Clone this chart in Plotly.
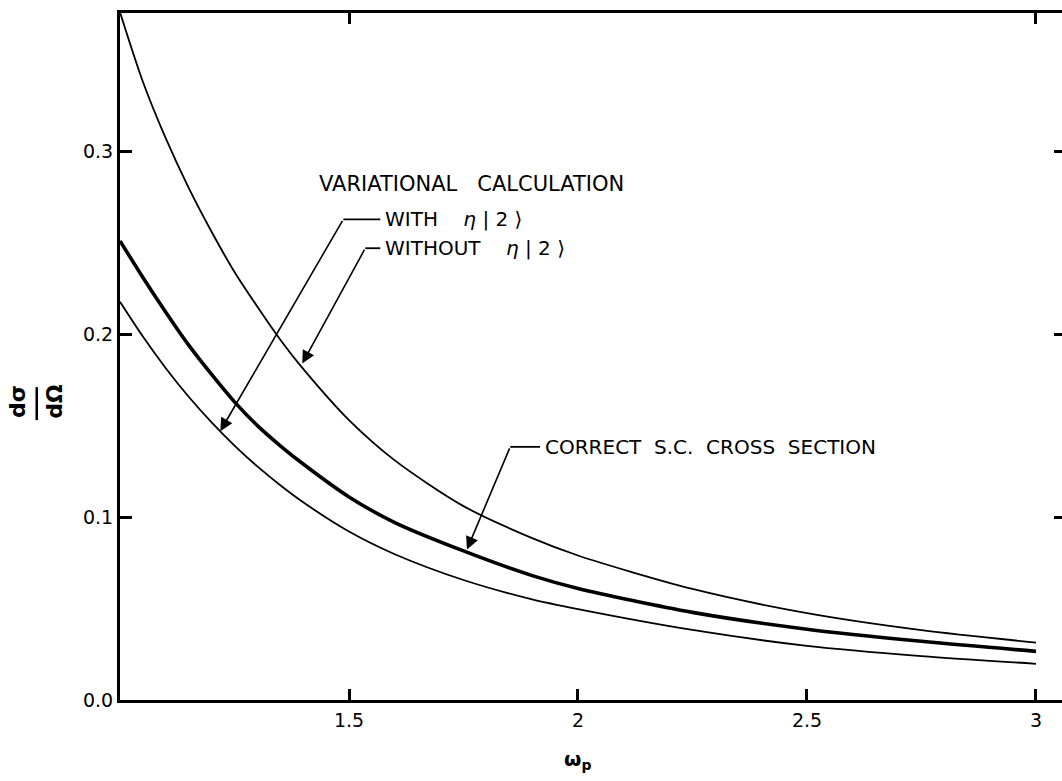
import plotly.graph_objects as go

# omega_p values
omega = [1.0, 1.05, 1.1, 1.15, 1.2, 1.25, 1.3, 1.35, 1.4, 1.5, 1.6, 1.75, 1.9, 2.0, 2.25, 2.5, 2.75, 3.0]
# variational calculation without eta|2>
without_eta = [0.376, 0.338, 0.307, 0.280, 0.256, 0.234, 0.215, 0.197, 0.181, 0.153, 0.131, 0.106, 0.0885, 0.079, 0.0607, 0.0475, 0.0382, 0.0314]
# correct S.C. cross section (thick)
correct_sc = [0.251, 0.231, 0.212, 0.194, 0.178, 0.163, 0.150, 0.139, 0.129, 0.111, 0.097, 0.0815, 0.068, 0.061, 0.0479, 0.0387, 0.0321, 0.0266]
# variational calculation with eta|2>
with_eta = [0.2177, 0.1987, 0.1814, 0.1658, 0.1518, 0.1391, 0.1277, 0.1174, 0.1081, 0.0921, 0.0797, 0.0656, 0.0550, 0.0497, 0.0383, 0.0296, 0.0240, 0.0198]

x_ticks = [1.5, 2, 2.5, 3]
x_tick_text = ["1.5", "2", "2.5", "3"]
top_ticks = [1.5, 3]
y_ticks = [0.0, 0.1, 0.2, 0.3]
y_tick_text = ["0.0", "0.1", "0.2", "0.3"]
right_ticks = [0.1, 0.2, 0.3]

FONT = "DejaVu Sans"
NB = "\u00a0"

fig = go.Figure()
for ys, w in [(without_eta, 1.8), (correct_sc, 3.6), (with_eta, 1.8)]:
    fig.add_trace(go.Scatter(x=omega, y=ys, mode="lines",
                             line=dict(color="black", width=w, shape="spline", smoothing=0.8),
                             showlegend=False, hoverinfo="skip"))
# invisible trace carrying the top / right tick axes
fig.add_trace(go.Scatter(x=[1], y=[0], xaxis="x2", yaxis="y2", mode="markers",
                         marker=dict(opacity=0), showlegend=False, hoverinfo="skip"))

XR = [1.0, 3.0568]
YR = [0.0, 0.3756]

fig.update_layout(
    width=1062, height=781,
    margin=dict(l=120, r=0, t=13, b=81),
    paper_bgcolor="white", plot_bgcolor="white",
    font=dict(family=FONT, color="black"),
    xaxis=dict(range=XR, tickvals=x_ticks, ticktext=x_tick_text, ticks="inside",
               ticklen=11, tickwidth=2.5, tickcolor="black", showline=True, linewidth=3,
               linecolor="black", mirror=True, showgrid=False, zeroline=False,
               tickfont=dict(size=19, family=FONT), ticklabelstandoff=1),
    xaxis2=dict(range=XR, overlaying="x", side="top", tickvals=top_ticks,
                ticks="inside", ticklen=11, tickwidth=2.5, tickcolor="black",
                showticklabels=False, showline=False, showgrid=False, zeroline=False),
    yaxis=dict(range=YR, tickvals=y_ticks, ticktext=y_tick_text, ticks="inside",
               ticklen=12, tickwidth=2.5, tickcolor="black", showline=True, linewidth=3,
               linecolor="black", showgrid=False, zeroline=False,
               tickfont=dict(size=19, family=FONT)),
    yaxis2=dict(range=YR, overlaying="y", side="right", tickvals=right_ticks,
                ticks="inside", ticklen=8, tickwidth=2.5, tickcolor="black",
                showticklabels=False, showline=False, showgrid=False, zeroline=False),
)

ann_font = dict(family=FONT, size=20, color="black")

# VARIATIONAL CALCULATION heading
fig.add_annotation(x=1.431, y=0.282, text="VARIATIONAL" + NB * 3 + "CALCULATION",
                   showarrow=False, xanchor="left", yanchor="middle",
                   font=dict(family=FONT, size=21, color="black"))

eta = "<i>η</i>" + NB + "|" + NB + "2" + NB + "⟩"
labels = [
    # text, leader start (ω, y), leader end ω, arrow tip (ω, y)
    ("WITH" + NB * 4 + eta, (1.4876, 0.2628), 1.5684, (1.219, 0.147)),
    ("WITHOUT" + NB * 4 + eta, (1.5356, 0.2470), 1.5684, (1.398, 0.184)),
    ("CORRECT" + NB * 2 + "S.C." + NB * 2 + "CROSS" + NB * 2 + "SECTION", (1.852, 0.1384), 1.917, (1.7576, 0.0823)),
]
for text, (lx, ly), ex, (tx, ty) in labels:
    fig.add_shape(type="line", x0=lx, y0=ly, x1=ex, y1=ly, xref="x", yref="y",
                  line=dict(color="black", width=1.8))
    fig.add_annotation(x=ex + 0.006, y=ly, text=text, showarrow=False,
                       xanchor="left", yanchor="middle", font=ann_font)
    fig.add_annotation(x=tx, y=ty, ax=lx, ay=ly, axref="x", ayref="y", xref="x", yref="y",
                       text="", showarrow=True, arrowhead=2, arrowsize=1.6,
                       arrowwidth=1.6, arrowcolor="black", standoff=0, startstandoff=0)

# y-axis label as rotated fraction dσ / dΩ
fig.add_annotation(x=-0.108, y=0.434, xref="paper", yref="paper", text="<b>dσ</b>",
                   textangle=-90, showarrow=False, xanchor="center", yanchor="middle",
                   font=dict(family=FONT, size=22))
fig.add_annotation(x=-0.069, y=0.434, xref="paper", yref="paper", text="<b>dΩ</b>",
                   textangle=-90, showarrow=False, xanchor="center", yanchor="middle",
                   font=dict(family=FONT, size=22))
fig.add_shape(type="line", xref="paper", yref="paper", x0=-0.0884, x1=-0.0884,
              y0=0.4074, y1=0.4554, line=dict(color="black", width=2.5))

# x-axis label
fig.add_annotation(x=2.0, y=-0.087, xref="x", yref="paper", text="<b>ω<sub>p</sub></b>",
                   showarrow=False, xanchor="center", yanchor="middle",
                   font=dict(family=FONT, size=20))

fig.write_html("out.html")
